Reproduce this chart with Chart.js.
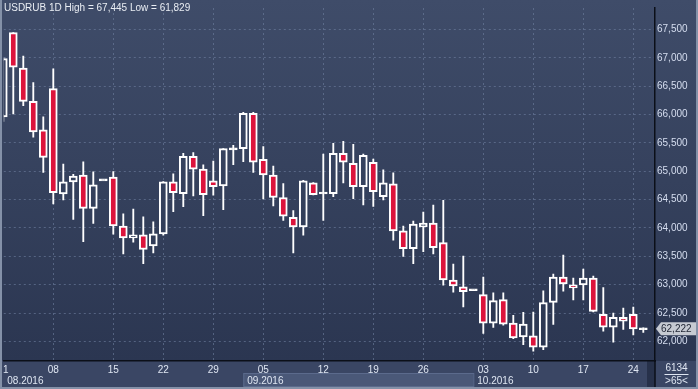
<!DOCTYPE html>
<html>
<head>
<meta charset="utf-8">
<script src="https://cdn.jsdelivr.net/npm/chart.js@4.4.1/dist/chart.umd.min.js"></script>
<style>
  html, body { margin: 0; padding: 0; background: #8491a8; }
  #wrap { width: 698px; height: 389px; }
</style>
</head>
<body>
<div id="wrap"><canvas id="usdrubChart" width="698" height="389"></canvas></div>
<script>
// --- DATOS (USDRUB 1D) ---
const dates = [
  '2016-08-01','2016-08-02','2016-08-03','2016-08-04','2016-08-05',
  '2016-08-08','2016-08-09','2016-08-10','2016-08-11','2016-08-12','2016-08-13',
  '2016-08-15','2016-08-16','2016-08-17','2016-08-18','2016-08-19',
  '2016-08-22','2016-08-23','2016-08-24','2016-08-25','2016-08-26',
  '2016-08-29','2016-08-30','2016-08-31','2016-09-01','2016-09-02',
  '2016-09-05','2016-09-06','2016-09-07','2016-09-08','2016-09-09','2016-09-10',
  '2016-09-12','2016-09-13','2016-09-14','2016-09-15','2016-09-16',
  '2016-09-19','2016-09-20','2016-09-21','2016-09-22','2016-09-23',
  '2016-09-26','2016-09-27','2016-09-28','2016-09-29','2016-09-30','2016-10-01',
  '2016-10-03','2016-10-04','2016-10-05','2016-10-06','2016-10-07',
  '2016-10-10','2016-10-11','2016-10-12','2016-10-13','2016-10-14',
  '2016-10-17','2016-10-18','2016-10-19','2016-10-20','2016-10-21',
  '2016-10-24','2016-10-25'
];
const open  = [65960,67445,66820,66232,65730, 66457,64599,64813,64934,64346,64848, 64900,64035,63827,63879,63682,
  63896,64813,64606,65263,65038, 64831,64744,65401,65401,66024, 65211,64934,64537,64190,64017,64796,
  64616,64606,65315,65142,64727, 65159,64554,64779,63948,63637, 64017,64085,63741,63083,62962,62910,
  62824,62322,62737,62322,62080, 62097,61898,62685,63135,62997, 62997,63118,62478,62251,62424, 62478,62222];
const high  = [67000,67445,67033,66566,65960, 66808,65125,64945,65165,64992,64848, 64997,64248,64334,64196,64109,
  64820,64957,65315,65332,65113, 65182,65401,65459,66042,66042, 65436,65090,64784,64305,64840,64800,
  65303,65493,65528,65476,65303, 65216,65026,64974,64035,64121, 64282,64403,64490,63365,63504,62910,
  63135,62858,62858,62460,62512, 62518,62893,63187,63521,63118, 63274,63152,62950,62500,62587, 62604,62240];
const low   = [65880,66012,66156,65602,64979, 64426,64495,64149,63758,64080,64848, 63890,63541,63749,63370,63561,
  63872,64287,64374,64564,64218, 64581,64322,65118,65170,64979, 64512,64391,64132,63561,63872,64585,
  64132,64554,64796,64519,64408, 64381,64495,63786,63498,63370, 63583,63541,62990,62869,62609,62910,
  62142,62246,62288,62046,61941, 61829,61855,62298,62884,62730, 62730,62520,62182,61988,62209, 62113,62160];
const close = [66990,66837,66232,65696,65246, 64623,64813,64917,64346,64761,64848, 64035,63827,63879,63620,63896,
  64813,64623,65263,65038,64588, 64727,65401,65395,66024,65159, 64934,64537,64208,64017,64831,64588,
  64616,65315,65159,64727,65280, 64640,64796,63948,63637,64069, 64085,63655,63083,62978,62876,62910,
  62322,62720,62305,62063,62305, 61898,62685,63135,63014,62945, 63118,62530,62251,62424,62355, 62218,62222];

const dayTickDates  = ['2016-08-01','2016-08-08','2016-08-15','2016-08-22','2016-08-29','2016-09-05','2016-09-12',
  '2016-09-19','2016-09-26','2016-10-03','2016-10-10','2016-10-17','2016-10-24'];
const dayTickLabels = ['1','08','15','22','29','05','12','19','26','03','10','17','24'];
const monthStarts   = ['2016-08-01','2016-09-01','2016-10-01'];
const monthLabels   = ['08.2016','09.2016','10.2016'];
const yTicks      = [62000,62500,63000,63500,64000,64500,65000,65500,66000,66500,67000,67500];
const yTickLabels = ['62,000','62,500','63,000','63,500','64,000','64,500','65,000','65,500','66,000','66,500','67,000','67,500'];
const titleText = 'USDRUB 1D High = 67,445 Low = 61,829';
const lastPrice = '62,222';

const RED = '#dc143c';
const GRID = 'rgba(112,128,160,0.6)';
const TXT = '#dfe6f2';

Chart.defaults.font.family = "'Liberation Sans', Arial, sans-serif";
Chart.defaults.font.size = 10;

// cuerpos: flat candles get a thin white bar so they stay visible
const bodyData = dates.map((d, i) => {
  const lo = Math.min(open[i], close[i]), hi = Math.max(open[i], close[i]);
  return hi - lo < 20 ? { x: i, y: [close[i] - 17, close[i] + 17] } : { x: i, y: [lo, hi] };
});
const wickData = dates.map((d, i) => ({ x: i, y: [low[i], high[i]] }));

function bgGradient(ctx, area) {
  const g = ctx.createLinearGradient(0, 0, 0, area.bottom);
  g.addColorStop(0, '#3f4c69');
  g.addColorStop(1, '#2b3651');
  return g;
}

function bodyColor(c) {
  const i = c.dataIndex;
  if (Math.abs(close[i] - open[i]) < 20) return '#ffffff';
  if (close[i] < open[i]) return RED;
  const a = c.chart.chartArea;
  return a ? bgGradient(c.chart.ctx, a) : '#34405c';
}

// --- FONDO / MARCO ---
const framePlugin = {
  id: 'frame',
  beforeDraw(chart) {
    const { ctx, width, height, chartArea: a, scales } = chart;
    ctx.save();
    ctx.fillStyle = bgGradient(ctx, a);
    ctx.fillRect(2, 0, width - 4, a.bottom);
    // axis panel
    ctx.fillStyle = '#3a4664';
    ctx.fillRect(2, a.bottom, width - 4, height - 2 - a.bottom);
    // month band for september
    const x2 = scales.x2;
    const s = x2.getPixelForValue(dates.indexOf('2016-09-01'));
    const e = x2.getPixelForValue(dates.indexOf('2016-10-01'));
    ctx.fillStyle = '#4a5878';
    ctx.fillRect(s, x2.top, e - s, x2.bottom - x2.top);
    ctx.strokeStyle = '#5b6a8c';
    ctx.lineWidth = 1;
    ctx.strokeRect(s + 0.5, x2.top + 0.5, e - s, x2.bottom - x2.top - 1);
    // scroll strip
    ctx.fillStyle = '#27314a';
    ctx.fillRect(a.right - 8, a.bottom, 8, height - 2 - a.bottom);
    ctx.strokeStyle = '#0b0f18';
    ctx.lineWidth = 1.5;
    ctx.beginPath();
    ctx.moveTo(a.right, a.bottom);
    ctx.lineTo(a.right, height - 2);
    ctx.stroke();
    ctx.restore();
  },
  afterDraw(chart) {
    const { ctx, width, chartArea: a, scales } = chart;
    ctx.save();
    ctx.font = "10px 'Liberation Sans', Arial, sans-serif";
    ctx.textBaseline = 'middle';
    ctx.fillStyle = '#e9edf3';
    ctx.fillText(titleText, 4, 8);

    // last price tag
    const y = scales.y.getPixelForValue(close[close.length - 1]);
    ctx.fillStyle = '#c6cad2';
    ctx.beginPath();
    ctx.moveTo(a.right + 1, y);
    ctx.lineTo(a.right + 6, y - 6.5);
    ctx.lineTo(width - 2, y - 6.5);
    ctx.lineTo(width - 2, y + 6.5);
    ctx.lineTo(a.right + 6, y + 6.5);
    ctx.closePath();
    ctx.fill();
    ctx.fillStyle = '#1e2433';
    ctx.fillText(lastPrice, a.right + 6, y + 0.5);

    // corner box
    ctx.fillStyle = TXT;
    ctx.textAlign = 'center';
    const cx = (a.right + width) / 2;
    ctx.fillText('6134', cx, a.bottom + 7);
    ctx.fillText('>65<', cx, a.bottom + 20);
    ctx.strokeStyle = TXT;
    ctx.lineWidth = 1;
    ctx.beginPath();
    ctx.moveTo(cx - 12, a.bottom + 13.5);
    ctx.lineTo(cx + 12, a.bottom + 13.5);
    ctx.stroke();
    ctx.restore();
  }
};

const xMin = 0.05, xMax = 65.17;

new Chart(document.getElementById('usdrubChart'), {
  type: 'bar',
  data: {
    datasets: [
      { label: 'body', data: bodyData, xAxisID: 'x', yAxisID: 'y', grouped: false, clip: 0,
        barThickness: 8, borderWidth: 2, borderSkipped: false, borderColor: '#ffffff', backgroundColor: bodyColor },
      { label: 'wick', data: wickData, xAxisID: 'x', yAxisID: 'y', grouped: false, clip: 0,
        barThickness: 1.2, borderWidth: 0, backgroundColor: '#ffffff' }
    ]
  },
  options: {
    responsive: false,
    animation: false,
    events: [],
    layout: { padding: { left: 3, top: 1, right: 0, bottom: 2 } },
    plugins: { legend: { display: false }, tooltip: { enabled: false } },
    scales: {
      x: {
        type: 'linear', position: 'bottom', weight: 0, min: xMin, max: xMax, offset: false,
        afterBuildTicks: s => { s.ticks = dayTickDates.map(d => ({ value: Math.max(dates.indexOf(d), 0.25) })); },
        afterFit: s => { s.height = 12; },
        ticks: { autoSkip: false, maxRotation: 0, padding: 3, color: TXT,
          callback: (v, i) => dayTickLabels[i] },
        grid: { offset: false, drawTicks: false, color: c => (c.tick && c.tick.value < 1 ? 'rgba(0,0,0,0)' : GRID) },
        border: { display: true, color: '#0b0f18', width: 1.5, dash: [2, 3] }
      },
      x2: {
        type: 'linear', position: 'bottom', weight: 1, min: xMin, max: xMax, offset: false,
        afterBuildTicks: s => { s.ticks = monthStarts.map(d => ({ value: dates.indexOf(d) })); },
        afterFit: s => { s.height = 14; },
        ticks: { autoSkip: false, maxRotation: 0, padding: 2, align: 'start', labelOffset: 4, color: TXT,
          callback: (v, i) => monthLabels[i] },
        grid: { offset: false, display: false, drawTicks: false },
        border: { display: false }
      },
      y: {
        type: 'linear', position: 'right', min: 61654, max: 67880,
        afterBuildTicks: s => { s.ticks = yTicks.map(v => ({ value: v })); },
        afterFit: s => { s.width = 43; },
        ticks: { autoSkip: false, padding: 2, color: '#d6def0',
          callback: (v, i) => yTickLabels[i] },
        grid: { drawTicks: false, color: GRID },
        border: { display: true, color: '#0b0f18', width: 1.5, dash: [2, 3] }
      }
    }
  },
  plugins: [framePlugin]
});
</script>
</body>
</html>
